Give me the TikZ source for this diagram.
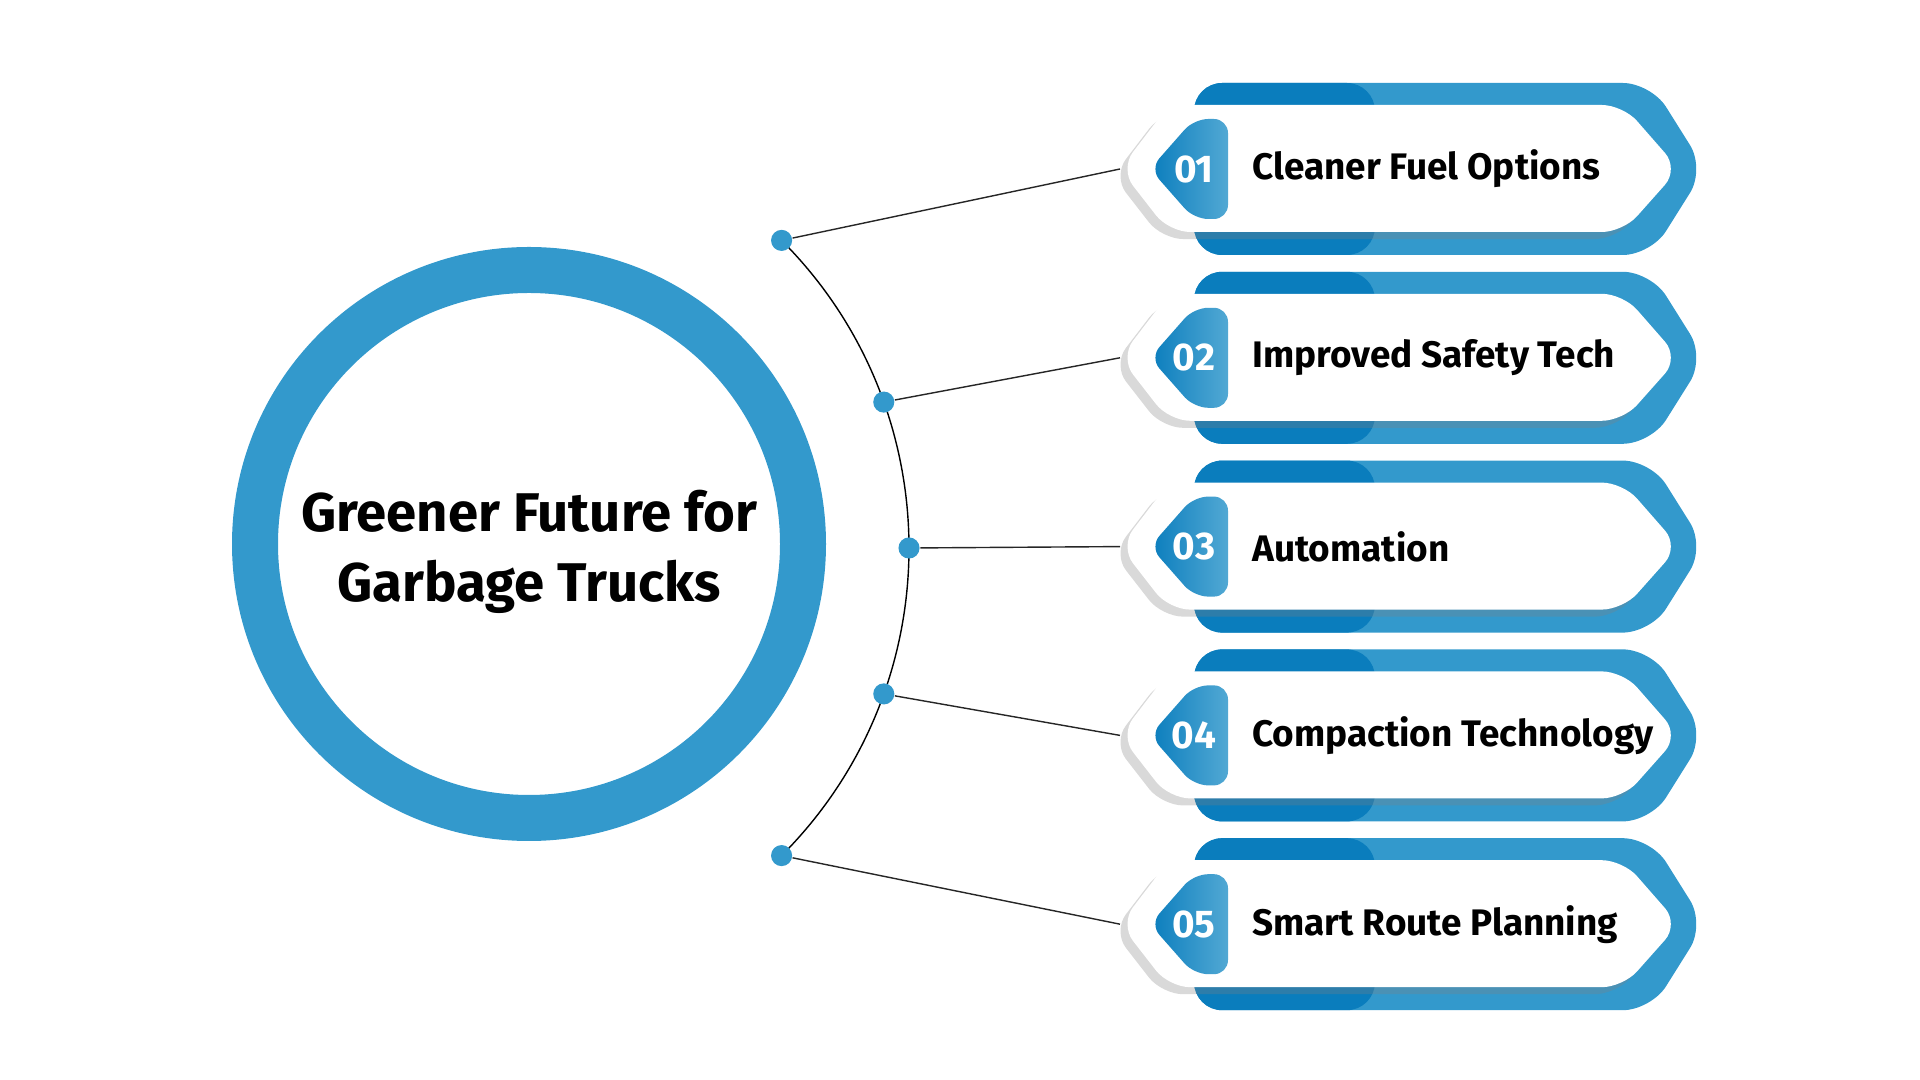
\documentclass[tikz,border=0pt]{standalone}
\usepackage{fontspec}
\setmainfont{Fira Sans}
\usetikzlibrary{shadows,calc}
\definecolor{ringblue}{HTML}{3399CC}
\definecolor{darkblue}{HTML}{0A7DBD}
\tikzset{
  dotpt/.style={circle,fill=ringblue,inner sep=0pt,minimum size=6pt},
  itemlabel/.style={anchor=west,font=\fontsize{10.5}{13}\selectfont\bfseries},
  numlabel/.style={text=white,font=\fontsize{11}{13}\selectfont\bfseries},
  linkline/.style={draw,thin,black!85}
}
\begin{document}
\begin{tikzpicture}[x=0.01cm,y=-0.01cm]
  \useasboundingbox (0,0) rectangle (1920,1080);

  % central ring
  \fill[ringblue,even odd rule] (529,544) circle[radius=297] (529,544) circle[radius=251];
  \node[align=center,font=\fontsize{15.5}{20}\selectfont\bfseries] (title) at (529,552)
    {Greener Future for\\Garbage Trucks};

  % arc behind the links
  \coordinate (hub) at (474,548);
  \draw[thin] ($(hub)+(-45:435)$) arc[start angle=-45,end angle=45,radius=435];

  \foreach \num/\lab/\ang [count=\i] in {01/Cleaner Fuel Options/-45,
      02/Improved Safety Tech/-19.6, 03/Automation/0,
      04/Compaction Technology/19.6, 05/Smart Route Planning/45} {
    \pgfmathsetmacro{\yc}{169+(\i-1)*188.8}

    % blue back plate
    \fill[ringblue,rounded corners=8] (1194,\yc-86) -- (1651,\yc-86) -- (1705,\yc)
      -- (1651,\yc+86) -- (1194,\yc+86) -- cycle;
    \fill[darkblue,rounded corners=8] (1194,\yc-86) -- (1375,\yc-86) -- (1375,\yc+86)
      -- (1194,\yc+86) -- cycle;

    % white plate
    \path[fill=white,rounded corners=6,drop shadow={opacity=0.3,shadow xshift=-2pt,shadow yshift=-2pt}]
      (1120,\yc) -- (1169,\yc-64) -- (1623,\yc-64) -- (1679,\yc)
      -- (1623,\yc+63) -- (1169,\yc+63) -- cycle;

    % number badge
    \shade[left color=darkblue,right color=ringblue!85,rounded corners=4]
      (1150,\yc) -- (1194,\yc-50) -- (1228,\yc-50) -- (1228,\yc+50)
      -- (1194,\yc+50) -- cycle;
    \node[numlabel] (num\i) at (1194,\yc) {\num};
    \node[itemlabel] (lab\i) at (1240,\yc) {\lab};

    % link from the arc to the plate
    \coordinate (tip\i) at (1120,\yc);
    \node[dotpt] (dot\i) at ($(hub)+(\ang:435)$) {};
    \path[linkline] (dot\i) -- (tip\i);
  }
\end{tikzpicture}
\end{document}
